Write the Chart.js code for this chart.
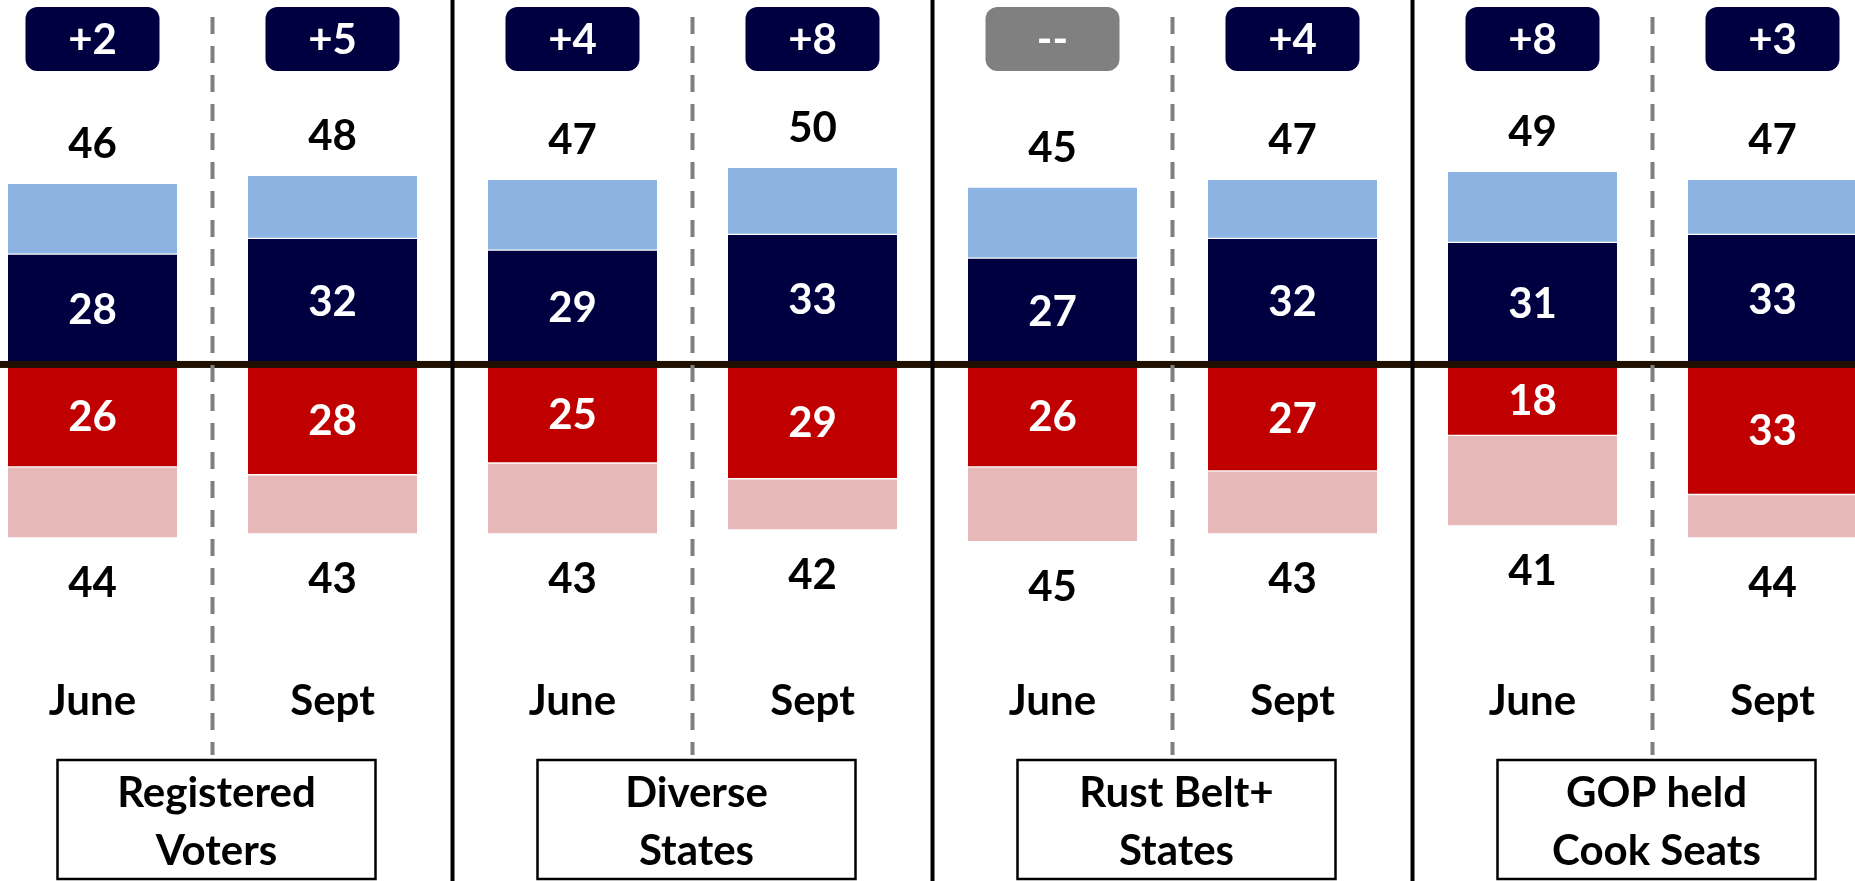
<!DOCTYPE html>
<html>
<head>
<meta charset="utf-8">
<script src="https://cdn.jsdelivr.net/npm/chart.js@4.4.1/dist/chart.umd.min.js"></script>
<style>
html, body { margin: 0; padding: 0; background: #fff; overflow: hidden; }
</style>
</head>
<body>
<canvas id="chart" width="1855" height="881"></canvas>
<script>
// one bar per wave, two waves per group
const months = ['June', 'Sept', 'June', 'Sept', 'June', 'Sept', 'June', 'Sept'];
const groupNames = [['Registered', 'Voters'], ['Diverse', 'States'], ['Rust Belt+', 'States'], ['GOP held', 'Cook Seats']];
const netChange = ['+2', '+5', '+4', '+8', '--', '+4', '+8', '+3'];

const demStrong = [28, 32, 29, 33, 27, 32, 31, 33];
const demTotal = [46, 48, 47, 50, 45, 47, 49, 47];
const repStrong = [26, 28, 25, 29, 26, 27, 18, 33];
const repTotal = [44, 43, 43, 42, 45, 43, 41, 44];

const NAVY = '#000040';
const SIZE = 42;
const FONT = 'bold ' + SIZE + 'px Lato';
const CAP = 0.7165 * SIZE; // cap height of the font, used to centre digits

function points(vals) {
    return vals.map((v, i) => ({x: i, y: v}))
}

// draws centred text by its cap height, not the em box
function capText(ctx, text, x, cy) {
    ctx.fillText(text, x, cy + CAP / 2);
}

function roundRect(ctx, x, y, w, h, r) {
    ctx.beginPath();
    ctx.moveTo(x + r, y);
    ctx.arcTo(x + w, y, x + w, y + h, r);
    ctx.arcTo(x + w, y + h, x, y + h, r);
    ctx.arcTo(x, y + h, x, y, r);
    ctx.arcTo(x, y, x + w, y, r);
    ctx.closePath();
}

const overlay = {
    id: 'overlay',
    afterDatasetsDraw(chart) {
        const {ctx, chartArea} = chart;
        const xs = chart.scales.x, ys = chart.scales.y;
        const zero = ys.getPixelForValue(0);
        ctx.save();

        // axis line through zero
        ctx.fillStyle = '#1F1000';
        ctx.fillRect(chartArea.left, zero - 3.5, chartArea.right - chartArea.left, 7);

        // dashed line between the two waves of a group
        ctx.strokeStyle = '#7F7F7F';
        ctx.lineWidth = 4;
        ctx.setLineDash([17, 12]);
        for (let g = 0; g < groupNames.length; g++) {
            const px = xs.getPixelForValue(2 * g + 0.5);
            ctx.beginPath();
            ctx.moveTo(px, chartArea.top + 17);
            ctx.lineTo(px, chartArea.top + 755);
            ctx.stroke();
        }
        ctx.setLineDash([]);

        // solid line between groups
        ctx.strokeStyle = '#000';
        ctx.lineWidth = 4;
        for (let g = 1; g < groupNames.length; g++) {
            const px = xs.getPixelForValue(2 * g - 0.5);
            ctx.beginPath();
            ctx.moveTo(px, chartArea.top);
            ctx.lineTo(px, chartArea.bottom);
            ctx.stroke();
        }

        ctx.font = FONT;
        ctx.textAlign = 'center';
        ctx.textBaseline = 'alphabetic';

        // values inside the strong segments
        ctx.fillStyle = '#fff';
        [[0, demStrong], [2, repStrong]].forEach(([d, vals]) => {
            chart.getDatasetMeta(d).data.forEach((bar, i) => {
                capText(ctx, vals[i], bar.x, (bar.y + bar.base) / 2);
            });
        });

        // totals above and below the bars
        ctx.fillStyle = '#000';
        months.forEach((m, i) => {
            const px = xs.getPixelForValue(i);
            capText(ctx, demTotal[i], px, ys.getPixelForValue(demTotal[i]) - 40);
            capText(ctx, repTotal[i], px, ys.getPixelForValue(-repTotal[i]) + 44);
            capText(ctx, m, px, chartArea.top + 700);
        });

        // net change badges
        netChange.forEach((t, i) => {
            const px = xs.getPixelForValue(i);
            ctx.fillStyle = t === '--' ? '#808080' : NAVY;
            roundRect(ctx, px - 67, chartArea.top + 7, 134, 64, 12);
            ctx.fill();
            ctx.fillStyle = '#fff';
            capText(ctx, t, px, chartArea.top + 39);
        });

        // group name boxes
        groupNames.forEach((lines, g) => {
            const px = xs.getPixelForValue(2 * g + 0.5) + 4;
            ctx.fillStyle = '#fff';
            ctx.fillRect(px - 159, chartArea.top + 760, 318, 119);
            ctx.strokeStyle = '#000';
            ctx.lineWidth = 2.5;
            ctx.strokeRect(px - 159, chartArea.top + 760, 318, 119);
            ctx.fillStyle = '#000';
            lines.forEach((l, k) => capText(ctx, l, px, chartArea.top + 792 + 58 * k));
        });

        ctx.restore();
    }
};

window.onload = () => {
    const ctx = document.getElementById('chart').getContext('2d');
    const sep = {top: 1, bottom: 1, left: 0, right: 0};
    new Chart(ctx, {
        type: 'bar',
        data: {
            datasets: [
                {label: 'Dem strong', data: points(demStrong), backgroundColor: NAVY},
                {label: 'Dem lean', data: points(demTotal.map((v, i) => v - demStrong[i])), backgroundColor: '#8DB3E2'},
                {label: 'Rep strong', data: points(repStrong.map(v => -v)), backgroundColor: '#C00000'},
                {label: 'Rep lean', data: points(repTotal.map((v, i) => -(v - repStrong[i]))), backgroundColor: '#E6B9B8'}
            ]
        },
        options: {
            responsive: false,
            animation: false,
            layout: {padding: 0},
            datasets: {
                bar: {
                    barThickness: 169,
                    borderColor: '#fff',
                    borderWidth: sep,
                    borderSkipped: false
                }
            },
            plugins: {legend: {display: false}, tooltip: {enabled: false}},
            scales: {
                x: {type: 'linear', offset: false, stacked: true, display: false, min: -92.5 / 240, max: (1855 - 92.5) / 240},
                y: {stacked: true, display: false, min: -131.1, max: 92.5}
            }
        },
        plugins: [overlay]
    });
};
</script>
</body>
</html>
